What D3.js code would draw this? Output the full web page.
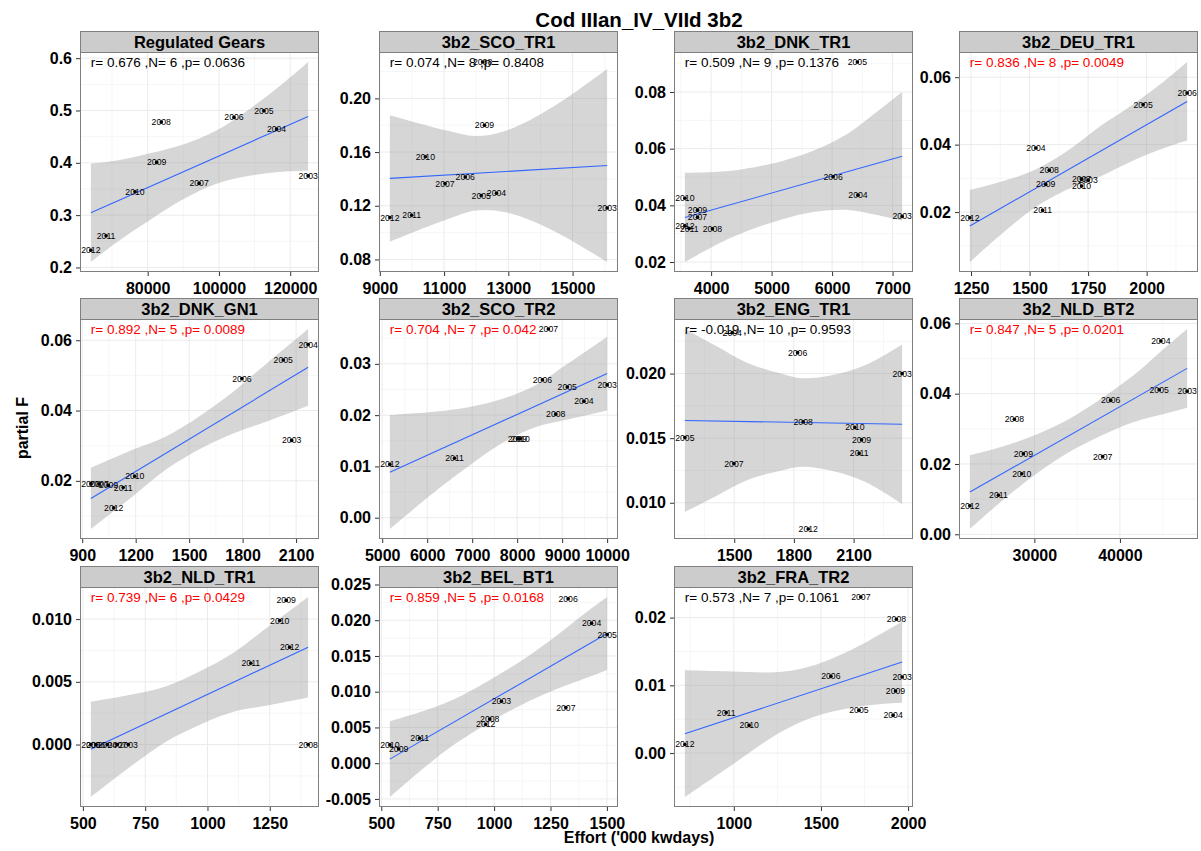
<!DOCTYPE html>
<html><head><meta charset="utf-8">
<script src="https://cdn.jsdelivr.net/npm/d3@7"></script>
<style>body{margin:0;background:#fff;} svg{display:block;font-family:"Liberation Sans",Arial,Helvetica,sans-serif;}</style>
</head><body><svg id="chart" width="1201" height="851"></svg>
<script>
// ---------------- DATA ----------------
const chartTitle = "Cod IIIan_IV_VIId 3b2";
const xAxisTitle = "Effort ('000 kwdays)";
const yAxisTitle = "partial F";
const panelNames = ["Regulated Gears","3b2_SCO_TR1","3b2_DNK_TR1","3b2_DEU_TR1","3b2_DNK_GN1","3b2_SCO_TR2","3b2_ENG_TR1","3b2_NLD_BT2","3b2_NLD_TR1","3b2_BEL_BT1","3b2_FRA_TR2"];
const statsText = ["r= 0.676 ,N= 6 ,p= 0.0636","r= 0.074 ,N= 8 ,p= 0.8408","r= 0.509 ,N= 9 ,p= 0.1376","r= 0.836 ,N= 8 ,p= 0.0049","r= 0.892 ,N= 5 ,p= 0.0089","r= 0.704 ,N= 7 ,p= 0.042","r= -0.019 ,N= 10 ,p= 0.9593","r= 0.847 ,N= 5 ,p= 0.0201","r= 0.739 ,N= 6 ,p= 0.0429","r= 0.859 ,N= 5 ,p= 0.0168","r= 0.573 ,N= 7 ,p= 0.1061"];
const significant = [false,false,false,true,true,true,false,true,true,true,false];

// points: [year, effort, partial F]
const rgPts = [[2012,64056,0.233],[2011,68336,0.2604],[2010,76448,0.3446],[2009,82517,0.4008],[2008,83804,0.4778],[2007,94433,0.3606],[2006,104222,0.4868],[2005,112614,0.4994],[2004,116166,0.4644],[2003,125032,0.3751]];
const rgFit = [[64056,0.3044],[125032,0.4887]];
const rgBandX = [64056,71329,80643,89957,99300,108613,117928,125032];
const rgBandLo = [0.2104,0.2482,0.2908,0.3302,0.3599,0.3753,0.3829,0.3847];
const rgBandHi = [0.3984,0.4046,0.4182,0.4352,0.4619,0.5029,0.5515,0.5927];
const rgXTicks = ["80000","100000","120000"];
const rgYTicks = ["0.2","0.3","0.4","0.5","0.6"];

const sco1Pts = [[2012,9313,0.1112],[2011,9993,0.1129],[2010,10418,0.1565],[2009,12258,0.18],[2008,12200,0.2271],[2007,11029,0.1365],[2006,11659,0.1414],[2005,12156,0.1276],[2004,12631,0.1293],[2003,16075,0.1183]];
const sco1Fit = [[9313,0.1404],[16075,0.150]];
const sco1BandX = [9313,11060,11991,12922,14369,16075];
const sco1BandLo = [0.0933,0.1096,0.1165,0.1151,0.1018,0.0781];
const sco1BandHi = [0.1875,0.1762,0.1719,0.1759,0.1934,0.2219];
const sco1XTicks = ["9000","11000","13000","15000"];
const sco1YTicks = ["0.08","0.12","0.16","0.20"];

const dnk1Pts = [[2005,6418,0.0906],[2006,6017,0.0501],[2004,6428,0.0436],[2003,7158,0.0361],[2010,3566,0.0425],[2009,3775,0.0383],[2007,3775,0.0358],[2012,3566,0.0328],[2011,3638,0.0318],[2008,4021,0.0317]];
const dnk1Fit = [[3566,0.0357],[7158,0.0573]];
const dnk1BandX = [3566,4345,5168,5716,6264,6703,7158];
const dnk1BandLo = [0.0200,0.0287,0.0350,0.0377,0.0384,0.0368,0.0346];
const dnk1BandHi = [0.0515,0.0522,0.0556,0.0595,0.0654,0.0724,0.0800];
const dnk1XTicks = ["4000","5000","6000","7000"];
const dnk1YTicks = ["0.02","0.04","0.06","0.08"];

const deu1Pts = [[2006,2173,0.0553],[2005,1985,0.0519],[2004,1527,0.039],[2008,1584,0.0324],[2009,1569,0.0282],[2011,1556,0.0205],[2012,1245,0.0183],[2007,1722,0.0297],[2003,1750,0.0294],[2010,1722,0.0277]];
const deu1Fit = [[1245,0.01586],[2173,0.0528]];
const deu1BandX = [1245,1374,1516,1658,1800,1943,2085,2173];
const deu1BandLo = [0.0052,0.0131,0.0210,0.0266,0.0305,0.0353,0.0392,0.0412];
const deu1BandHi = [0.0265,0.0289,0.0323,0.0380,0.0454,0.0520,0.0594,0.0645];
const deu1XTicks = ["1250","1500","1750","2000"];
const deu1YTicks = ["0.02","0.04","0.06"];

const dnkgnPts = [[2004,2167.6,0.0588],[2005,2028,0.0544],[2006,1796,0.0491],[2003,2075,0.0315],[2010,1195,0.0213],[2011,1130,0.0181],[2012,1077,0.0123],[2009,1047,0.0187],[2008,948.5,0.0192],[2007,995,0.0191]];
const dnkgnFit = [[948.5,0.015],[2167.6,0.0523]];
const dnkgnBandX = [948.5,1186,1372,1558,1744,1930,2167.6];
const dnkgnBandLo = [0.0063,0.0157,0.0233,0.0290,0.0334,0.0368,0.0414];
const dnkgnBandHi = [0.0237,0.0289,0.0327,0.0384,0.0452,0.0532,0.0632];
const dnkgnXTicks = ["900","1200","1500","1800","2100"];
const dnkgnYTicks = ["0.02","0.04","0.06"];

const sco2Pts = [[2007,8694,0.0368],[2006,8561,0.0269],[2005,9114,0.0255],[2003,10000,0.0259],[2004,9484,0.0227],[2008,8858,0.0202],[2009,8008,0.0154],[2010,8068,0.0154],[2011,6608,0.0116],[2012,5170,0.0104]];
const sco2Fit = [[5170,0.00887],[10000,0.0281]];
const sco2BandX = [5170,6203,6940,7677,8415,9152,10000];
const sco2BandLo = [-0.0022,0.0053,0.0102,0.0146,0.0177,0.0192,0.0209];
const sco2BandHi = [0.0200,0.0207,0.0216,0.0232,0.0259,0.0302,0.0353];
const sco2XTicks = ["5000","6000","7000","8000","9000","10000"];
const sco2YTicks = ["0.00","0.01","0.02","0.03"];

const eng1Pts = [[2004,1490,0.02317],[2006,1818.6,0.02162],[2003,2344,0.0200],[2008,1846.7,0.01626],[2010,2106.5,0.01583],[2009,2140,0.01487],[2011,2128,0.01382],[2005,1252,0.01505],[2007,1498.5,0.01304],[2012,1872,0.00797]];
const eng1Fit = [[1252,0.01637],[2344,0.01608]];
const eng1BandX = [1252,1403,1570,1738,1839,1989,2157,2344];
const eng1BandLo = [0.00929,0.01047,0.01178,0.01249,0.01278,0.01247,0.01162,0.0099];
const eng1BandHi = [0.02345,0.02219,0.0208,0.01999,0.01964,0.01987,0.02064,0.02226];
const eng1XTicks = ["1500","1800","2100"];
const eng1YTicks = ["0.010","0.015","0.020"];

const nldbtPts = [[2004,44786,0.055],[2005,44590,0.0411],[2003,47855,0.0407],[2006,38916,0.0381],[2008,27666,0.0327],[2009,28716,0.0229],[2007,37982,0.0221],[2010,28530,0.0172],[2011,25799,0.0111],[2012,22461,0.0081]];
const nldbtFit = [[22461,0.012],[47855,0.0472]];
const nldbtBandX = [22461,25997,29883,33781,37667,41553,45451,47855];
const nldbtBandLo = [0.0015,0.00906,0.01655,0.02296,0.02786,0.03185,0.03441,0.036];
const nldbtBandHi = [0.0225,0.02476,0.02805,0.03246,0.03836,0.04515,0.05341,0.0584];
const nldbtXTicks = ["30000","40000"];
const nldbtYTicks = ["0.00","0.02","0.04","0.06"];

const nldtrPts = [[2009,1316,0.01149],[2010,1290,0.00989],[2012,1330,0.00776],[2011,1174,0.00648],[2008,1404,0.0],[2005,532,0.0],[2006,552,0.0],[2004,598,0.0],[2007,638,0.0],[2003,682,0.0]];
const nldtrFit = [[532,-0.00038],[1404,0.00776]];
const nldtrBandX = [532,702,835,968,1101,1234,1404];
const nldtrBandLo = [-0.00418,-0.00159,0.00025,0.00156,0.00259,0.0031,0.00376];
const nldtrBandHi = [0.00342,0.00401,0.00465,0.00582,0.00727,0.00924,0.01176];
const nldtrXTicks = ["500","750","1000","1250"];
const nldtrYTicks = ["0.000","0.005","0.010"];

const belPts = [[2006,1328,0.0230],[2004,1432,0.01957],[2005,1501,0.0180],[2003,1032.6,0.00867],[2007,1318,0.00778],[2008,980.6,0.00617],[2012,963,0.00542],[2011,670,0.00348],[2010,538,0.00259],[2009,577,0.00198]];
const belFit = [[538,0.00057],[1501,0.01815]];
const belBandX = [538,670,818,966,1114,1262,1410,1501];
const belBandLo = [-0.00473,-0.00115,0.00251,0.00546,0.00805,0.01017,0.01194,0.01305];
const belBandHi = [0.00587,0.00713,0.00889,0.01136,0.01419,0.01749,0.02114,0.02325];
const belXTicks = ["500","750","1000","1250","1500"];
const belYTicks = ["-0.005","0.000","0.005","0.010","0.015","0.020","0.025"];

const fraPts = [[2007,1729,0.02304],[2008,1933,0.01975],[2006,1557,0.01133],[2003,1966,0.01123],[2009,1928,0.00916],[2005,1718,0.00631],[2004,1914,0.00557],[2011,956,0.00597],[2010,1088,0.00409],[2012,719,0.00128]];
const fraFit = [[719,0.00287],[1966,0.01344]];
const fraBandX = [719,989,1275,1466,1657,1848,1966];
const fraBandLo = [-0.00648,-0.00174,0.00319,0.00541,0.00663,0.00726,0.00744];
const fraBandHi = [0.01222,0.01206,0.01199,0.01301,0.01503,0.01766,0.01944];
const fraXTicks = ["1000","1500","2000"];
const fraYTicks = ["0.00","0.01","0.02"];

// ---------------- BUILD ----------------
const panels = [
  [rgPts,rgFit,rgBandX,rgBandLo,rgBandHi,rgXTicks,rgYTicks],
  [sco1Pts,sco1Fit,sco1BandX,sco1BandLo,sco1BandHi,sco1XTicks,sco1YTicks],
  [dnk1Pts,dnk1Fit,dnk1BandX,dnk1BandLo,dnk1BandHi,dnk1XTicks,dnk1YTicks],
  [deu1Pts,deu1Fit,deu1BandX,deu1BandLo,deu1BandHi,deu1XTicks,deu1YTicks],
  [dnkgnPts,dnkgnFit,dnkgnBandX,dnkgnBandLo,dnkgnBandHi,dnkgnXTicks,dnkgnYTicks],
  [sco2Pts,sco2Fit,sco2BandX,sco2BandLo,sco2BandHi,sco2XTicks,sco2YTicks],
  [eng1Pts,eng1Fit,eng1BandX,eng1BandLo,eng1BandHi,eng1XTicks,eng1YTicks],
  [nldbtPts,nldbtFit,nldbtBandX,nldbtBandLo,nldbtBandHi,nldbtXTicks,nldbtYTicks],
  [nldtrPts,nldtrFit,nldtrBandX,nldtrBandLo,nldtrBandHi,nldtrXTicks,nldtrYTicks],
  [belPts,belFit,belBandX,belBandLo,belBandHi,belXTicks,belYTicks],
  [fraPts,fraFit,fraBandX,fraBandLo,fraBandHi,fraXTicks,fraYTicks]
].map((a,i)=>({name:panelNames[i],stats:statsText[i],sig:significant[i],
  pts:a[0],fit:a[1],band:a[2].map((x,j)=>({x:x,lo:a[3][j],hi:a[4][j]})),xt:a[5],yt:a[6]}));

const svg = d3.select("#chart");
svg.append("rect").attr("width",1201).attr("height",851).attr("fill","#fff");

const colLefts = [80,379,674,959];
const stripTops = [31,298,566];
const PW = 239, SH = 21, PH = 220;

function minorBreaks(vals, dom){
  const step = vals.length>1 ? vals[1]-vals[0] : (dom[1]-dom[0])/2;
  const out=[];
  for(let k=-1;k<vals.length;k++){
    const v=(k<0?vals[0]-step:vals[k])+step/2;
    if(v>dom[0] && v<dom[1]) out.push(v);
  }
  return out;
}

panels.forEach((p,i)=>{
  const col=i%4,row=Math.floor(i/4);
  const g=svg.append("g").attr("transform",`translate(${colLefts[col]},${stripTops[row]})`);
  const xsAll=[...p.pts.map(d=>d[1]),...p.band.map(d=>d.x)];
  const ysAll=[...p.pts.map(d=>d[2]),...p.band.map(d=>d.lo),...p.band.map(d=>d.hi)];
  const [x0,x1]=d3.extent(xsAll),[y0,y1]=d3.extent(ysAll);
  const px=(x1-x0)*0.05, py=(y1-y0)*0.05;
  const x=d3.scaleLinear().domain([x0-px,x1+px]).range([0,PW]);
  const y=d3.scaleLinear().domain([y0-py,y1+py]).range([SH+PH,SH]);
  const xv=p.xt.map(Number), yv=p.yt.map(Number);

  g.append("rect").attr("x",0).attr("y",SH).attr("width",PW).attr("height",PH).attr("fill","#fff");
  const grid=g.append("g");
  minorBreaks(xv,x.domain()).forEach(v=>grid.append("line").attr("x1",x(v)).attr("x2",x(v)).attr("y1",SH).attr("y2",SH+PH).attr("stroke","#f4f4f4").attr("stroke-width",0.8));
  minorBreaks(yv,y.domain()).forEach(v=>grid.append("line").attr("y1",y(v)).attr("y2",y(v)).attr("x1",0).attr("x2",PW).attr("stroke","#f4f4f4").attr("stroke-width",0.8));
  xv.forEach(v=>grid.append("line").attr("x1",x(v)).attr("x2",x(v)).attr("y1",SH).attr("y2",SH+PH).attr("stroke","#ebebeb").attr("stroke-width",1));
  yv.forEach(v=>grid.append("line").attr("y1",y(v)).attr("y2",y(v)).attr("x1",0).attr("x2",PW).attr("stroke","#ebebeb").attr("stroke-width",1));

  const area=d3.area().x(d=>x(d.x)).y0(d=>y(d.lo)).y1(d=>y(d.hi)).curve(d3.curveCatmullRom.alpha(0.5));
  g.append("path").datum(p.band).attr("d",area).attr("fill","#999999").attr("fill-opacity",0.4);
  g.append("path").datum(p.fit).attr("d",d3.line().x(d=>x(d[0])).y(d=>y(d[1])))
    .attr("stroke","#3366FF").attr("stroke-width",1.1).attr("fill","none");
  g.selectAll("circle.pt").data(p.pts).enter().append("circle").attr("class","pt")
    .attr("cx",d=>x(d[1])).attr("cy",d=>y(d[2])).attr("r",1.8).attr("fill","#000");
  g.selectAll("text.yr").data(p.pts).enter().append("text").attr("class","yr")
    .attr("x",d=>x(d[1])).attr("y",d=>y(d[2])).attr("dy","0.35em")
    .attr("text-anchor","middle").attr("font-size","8.7px").attr("fill","#000")
    .text(d=>d[0]);
  const minX=d3.min(p.pts,d=>d[1]);
  g.append("text").attr("x",x(minX)).attr("y",y(y1)).attr("dy","0.35em")
    .attr("font-size","13.5px").attr("fill",p.sig?"#FF0000":"#000").text(p.stats);

  g.append("rect").attr("x",0.5).attr("y",SH+0.5).attr("width",PW-1).attr("height",PH-1)
    .attr("fill","none").attr("stroke","#7f7f7f").attr("stroke-width",1);
  g.append("rect").attr("x",0.5).attr("y",0.5).attr("width",PW-1).attr("height",SH)
    .attr("fill","#cccccc").attr("stroke","#7f7f7f").attr("stroke-width",1);
  g.append("text").attr("x",PW/2).attr("y",SH/2+1).attr("dy","0.35em").attr("text-anchor","middle")
    .attr("font-size","16.5px").attr("font-weight","bold").attr("fill","#000").text(p.name);

  const ax=g.append("g").attr("transform",`translate(0,${SH+PH})`)
    .call(d3.axisBottom(x).tickValues(xv).tickFormat((d,j)=>p.xt[j]).tickSizeInner(4).tickSizeOuter(0).tickPadding(7));
  const ay=g.append("g")
    .call(d3.axisLeft(y).tickValues(yv).tickFormat((d,j)=>p.yt[j]).tickSizeInner(4).tickSizeOuter(0).tickPadding(4));
  [ax,ay].forEach(a=>{
    a.select(".domain").remove();
    a.selectAll("line").attr("stroke","#333");
    a.selectAll("text").attr("font-size","16px").attr("font-weight","bold").attr("fill","#000")
      .attr("font-family","'Liberation Sans',Arial,sans-serif");
  });
});

svg.append("text").attr("x",639).attr("y",27).attr("text-anchor","middle")
  .attr("font-size","20.5px").attr("font-weight","bold").text(chartTitle);
svg.append("text").attr("x",639).attr("y",843).attr("text-anchor","middle")
  .attr("font-size","16px").attr("font-weight","bold").text(xAxisTitle);
svg.append("text").attr("transform","translate(28,428) rotate(-90)").attr("text-anchor","middle")
  .attr("font-size","16px").attr("font-weight","bold").text(yAxisTitle);
</script></body></html>
